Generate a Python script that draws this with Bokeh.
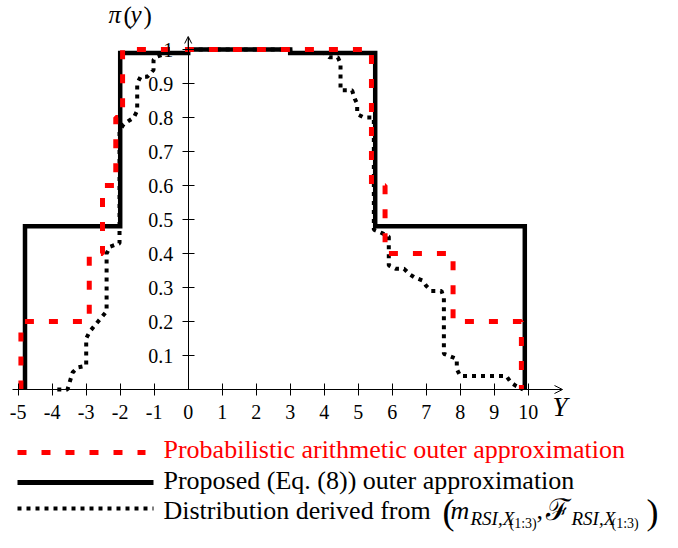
from bokeh.plotting import figure
from bokeh.models import Range1d, LinearAxis, FixedTicker, Arrow, OpenHead, Label
from bokeh.embed import file_html
from bokeh.resources import INLINE

# ---------------- data ----------------
x_ticks = [-5, -4, -3, -2, -1, 1, 2, 3, 4, 5, 6, 7, 8, 9, 10]
x_tick_labels = ["-5", "-4", "-3", "-2", "-1", "1", "2", "3", "4", "5", "6", "7", "8", "9", "10"]
y_ticks = [0.1, 0.2, 0.3, 0.4, 0.5, 0.6, 0.7, 0.8, 0.9, 1.0]
y_tick_labels = ["0.1", "0.2", "0.3", "0.4", "0.5", "0.6", "0.7", "0.8", "0.9", "1"]

# Proposed (Eq. (8)) outer approximation
proposed_x = [-4.8, -4.8, -2.0, -2.0, 0.0, 0.0, 3.0, 3.0, 5.5, 5.5, 9.9, 9.9]
proposed_y = [0.0, 0.48, 0.48, 0.99, 0.99, 1.0, 1.0, 0.99, 0.99, 0.48, 0.48, 0.0]

# Probabilistic arithmetic outer approximation
prob_x = [-4.92, -4.92, -2.91, -2.91, -2.52, -2.52, -2.13, -2.13, -1.93, -1.93,
          5.39, 5.39, 5.79, 5.79, 7.79, 7.79, 9.8, 9.8]
prob_y = [0.0, 0.2, 0.2, 0.4, 0.4, 0.6, 0.6, 0.8, 0.8, 1.0,
          1.0, 0.6, 0.6, 0.4, 0.4, 0.2, 0.2, 0.0]

# Distribution derived from (m, F)
dist_x = [-3.85, -3.55, -3.4, -3.25, -3.0, -3.0, -2.9, -2.65, -2.4, -2.4, -2.3, -2.02,
          -2.02, -1.9, -1.6, -1.5, -1.5, -1.4, -1.2, -1.02, -1.02, -0.9, -0.6, 0.0,
          0.0, 3.0, 3.0, 4.0, 4.15, 4.4, 4.48, 4.48, 4.82, 4.9, 4.97, 4.97,
          5.17, 5.46, 5.46, 5.7, 5.9, 5.9, 6.1, 6.35, 6.5, 6.65, 6.9, 7.0,
          7.15, 7.45, 7.52, 7.52, 7.65, 7.9, 7.9, 8.0, 9.35, 9.5, 9.65, 9.85]
dist_y = [0.0, 0.0, 0.05, 0.065, 0.07, 0.15, 0.17, 0.2, 0.23, 0.40, 0.42, 0.43,
          0.76, 0.78, 0.80, 0.82, 0.90, 0.92, 0.92, 0.94, 0.97, 0.98, 0.99, 0.99,
          1.0, 1.0, 0.99, 0.99, 0.977, 0.977, 0.96, 0.88, 0.88, 0.855, 0.84, 0.81,
          0.80, 0.80, 0.47, 0.46, 0.45, 0.365, 0.355, 0.355, 0.34, 0.33, 0.32, 0.305,
          0.29, 0.29, 0.27, 0.105, 0.10, 0.09, 0.06, 0.04, 0.04, 0.02, 0.01, 0.0]

legend_labels = ["Probabilistic arithmetic outer approximation",
                 "Proposed (Eq. (8)) outer approximation",
                 "Distribution derived from"]

RED = "#ff0000"
SERIF = "Liberation Serif"

# ---------------- layout helpers (picture pixel -> data) ----------------
X0, XS = 187.7, 34.0     # pixel of x=0, pixels per unit
Y0, YS = 389.0, 340.0    # pixel of y=0, pixels per unit
def X(px):
    return (px - X0) / XS
def Y(py):
    return (Y0 - py) / YS

W, H = 662, 532
p = figure(width=W, height=H, output_backend="svg", toolbar_location=None,
           x_range=Range1d(X(0), X(W)), y_range=Range1d(Y(H), Y(0)),
           x_axis_location=None, y_axis_location=None, min_border=0,
           outline_line_color=None, background_fill_color="white",
           border_fill_color="white")
p.grid.visible = False

def style_axis(ax, standoff):
    ax.axis_line_color = "black"
    ax.axis_line_width = 1
    ax.major_tick_line_color = "black"
    ax.major_tick_line_width = 1
    ax.major_tick_in = 6
    ax.major_tick_out = 6
    ax.minor_tick_line_color = None
    ax.major_label_text_font = SERIF
    ax.major_label_text_font_size = "20px"
    ax.major_label_text_color = "black"
    ax.major_label_standoff = standoff

xaxis = LinearAxis(fixed_location=0, ticker=FixedTicker(ticks=x_ticks),
                   major_label_overrides=dict(zip(x_ticks, x_tick_labels)),
                   bounds=(X(12), X(560)))
style_axis(xaxis, 9)
p.add_layout(xaxis, "below")

yaxis = LinearAxis(fixed_location=0, ticker=FixedTicker(ticks=y_ticks),
                   major_label_overrides=dict(zip(y_ticks, y_tick_labels)),
                   bounds=(0, Y(37)))
style_axis(yaxis, 9)
p.add_layout(yaxis, "left")

p.add_layout(Arrow(end=OpenHead(size=8, line_width=1, line_color="black"),
                   x_start=X(550), y_start=0, x_end=X(562), y_end=0,
                   line_width=1, line_color="black"))
p.add_layout(Arrow(end=OpenHead(size=7, line_width=1, line_color="black"),
                   x_start=0, y_start=Y(48), x_end=0, y_end=Y(36),
                   line_width=1, line_color="black"))

# ---------------- series ----------------
p.line(proposed_x, proposed_y, line_color="black", line_width=4.5, line_join="miter")
p.line(dist_x, dist_y, line_color="black", line_width=4, line_dash="4 5")
p.line(prob_x, prob_y, line_color=RED, line_width=5, line_dash="9 15")

# ---------------- texts ----------------
def lab(text, px, py, size, style="normal", color="black", font=SERIF, align="left"):
    # py is the wanted baseline (pixels from top); compensate the renderer's offset
    p.add_layout(Label(x=X(px), y=Y(py - 0.34 * size), text=text, text_font=font,
                       text_font_size=f"{size}px", text_font_style=style,
                       text_color=color, text_baseline="alphabetic",
                       text_align=align))

# x tick label "0" (no tick mark under the origin)
lab("0", 187.7, 418, 20, align="center")

# axis titles
lab("\u03c0", 108, 22, 25, "italic")
lab("(", 123, 23, 25)
lab("y", 130, 22, 25, "italic")
lab(")", 143, 23, 25)
lab("Y", 552, 416, 27, "italic")

# legend samples
p.line([X(17), X(145)], [Y(452), Y(452)], line_color=RED, line_width=5, line_dash="9 15")
p.line([X(17), X(153)], [Y(482), Y(482)], line_color="black", line_width=5)
p.line([X(17), X(153)], [Y(508), Y(508)], line_color="black", line_width=4, line_dash="4 5")

lab(legend_labels[0], 163, 458, 26, color=RED)
lab(legend_labels[1], 163, 489, 26)
lab(legend_labels[2], 163, 519, 26)

S = -18
lab("(", 460 + S, 524, 36)
lab("m", 468 + S, 519, 26, "italic")
lab("RSI,X", 488 + S, 524, 19, "italic")
lab("(1:3)", 527 + S, 528, 14)
lab(",", 554 + S, 519, 26)
lab("\u2131", 563 + S, 519, 30, font="DejaVu Serif")
lab("RSI,X", 589 + S, 524, 19, "italic")
lab("(1:3)", 629 + S, 528, 14)
lab(")", 664 + S, 524, 36)

open("out.html", "w").write(file_html(p, INLINE))
